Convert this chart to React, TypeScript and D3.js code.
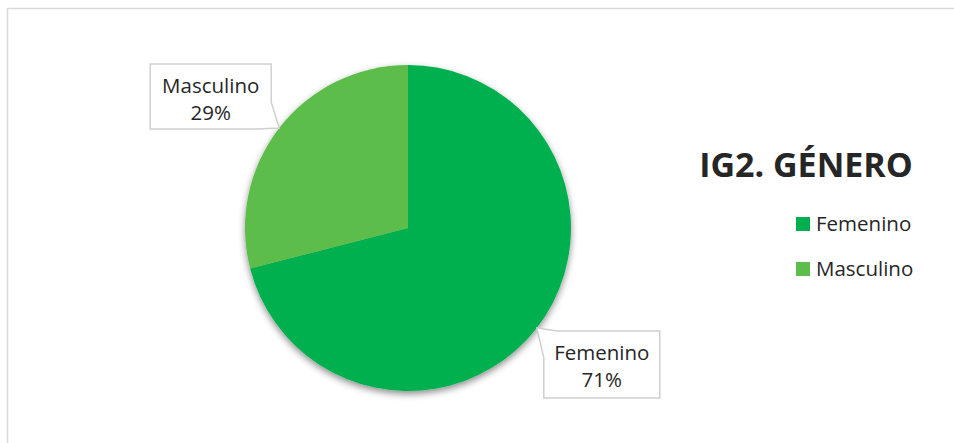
import React, { useEffect, useRef } from "react";
import * as d3 from "d3";

const categories = ["Femenino", "Masculino"];
const values = [71, 29];
const colors = ["#00B050", "#5CBD4B"];
const colorsDark = ["#00A24A", "#52B044"];
const title = "IG2. GÉNERO";

const App = () => {
  const ref = useRef<SVGSVGElement>(null);

  useEffect(() => {
    const svg = d3.select(ref.current);
    svg.selectAll("*").remove();
    const width = 954;
    const height = 443;
    const font = "'Open Sans', sans-serif";

    svg
      .append("rect")
      .attr("width", width)
      .attr("height", height)
      .attr("fill", "#fff");

    // chart frame (runs off the right/bottom edge)
    svg
      .append("rect")
      .attr("x", 7.5)
      .attr("y", 8.5)
      .attr("width", 1000)
      .attr("height", 500)
      .attr("fill", "none")
      .attr("stroke", "#d9d9d9")
      .attr("stroke-width", 1.5);

    const defs = svg.append("defs");
    const f = defs
      .append("filter")
      .attr("id", "shadow")
      .attr("x", "-20%")
      .attr("y", "-20%")
      .attr("width", "140%")
      .attr("height", "140%");
    f.append("feDropShadow")
      .attr("dx", 0)
      .attr("dy", 3)
      .attr("stdDeviation", 3.5)
      .attr("flood-color", "#000")
      .attr("flood-opacity", 0.45);

    const cx = 408;
    const cy = 228;
    const r = 163;

    categories.forEach((c, i) => {
      const g = defs
        .append("linearGradient")
        .attr("id", "grad" + i)
        .attr("gradientUnits", "userSpaceOnUse")
        .attr("x1", 0)
        .attr("y1", cy - r)
        .attr("x2", 0)
        .attr("y2", cy + r);
      g.append("stop").attr("offset", 0).attr("stop-color", colors[i]);
      g.append("stop").attr("offset", 0.55).attr("stop-color", colors[i]);
      g.append("stop").attr("offset", 1).attr("stop-color", colorsDark[i]);
    });

    const pie = d3
      .pie<number>()
      .sort(null)
      .value((d) => d);
    const arcs = pie(values);
    const arc = d3.arc<d3.PieArcDatum<number>>().innerRadius(0).outerRadius(r);

    const pg = svg
      .append("g")
      .attr("transform", `translate(${cx},${cy})`)
      .attr("filter", "url(#shadow)");
    pg.selectAll("path")
      .data(arcs)
      .enter()
      .append("path")
      .attr("d", arc)
      .attr("fill", (d, i) => `url(#grad${i})`);

    // data label callouts
    const total = d3.sum(values);
    const boxW = [116, 121];
    const boxH = [67, 65];
    arcs.forEach((d, i) => {
      const a = (d.startAngle + d.endAngle) / 2;
      const tx = cx + r * Math.sin(a);
      const ty = cy - r * Math.cos(a);
      let p: string;
      let bx: number;
      let by: number;
      const w = boxW[i];
      const h = boxH[i];
      if (Math.sin(a) > 0) {
        // box below-right of tip, tail at top-left
        bx = tx + 7;
        by = ty + 3;
        p = `M${tx},${ty} L${bx + 14},${by} H${bx + w} V${by + h} H${bx} V${by + 27} Z`;
      } else {
        // box above-left of tip, tail at bottom-right
        bx = tx - 8 - w;
        by = ty - 64;
        p = `M${bx},${by} H${bx + w} V${by + 38} L${tx},${ty} L${bx + w - 14},${by + h} H${bx} Z`;
      }
      svg
        .append("path")
        .attr("d", p)
        .attr("fill", "#fff")
        .attr("stroke", "#cfcfcf")
        .attr("stroke-width", 1.5);
      const t = svg
        .append("text")
        .attr("x", bx + w / 2)
        .attr("y", by + 29)
        .attr("text-anchor", "middle")
        .attr("font-family", font)
        .attr("font-size", 20.5)
        .attr("fill", "#262626");
      t.append("tspan").text(categories[i]);
      t.append("tspan")
        .attr("x", bx + w / 2)
        .attr("dy", 27)
        .text(Math.round((values[i] / total) * 100) + "%");
    });

    // title
    svg
      .append("text")
      .attr("x", 806)
      .attr("y", 177)
      .attr("text-anchor", "middle")
      .attr("font-family", font)
      .attr("font-weight", "bold")
      .attr("font-size", 34)
      .attr("fill", "#262626")
      .text(title);

    // legend
    const lg = svg.append("g").attr("transform", "translate(796,217)");
    categories.forEach((c, i) => {
      const row = lg.append("g").attr("transform", `translate(0,${i * 45})`);
      row
        .append("rect")
        .attr("width", 14)
        .attr("height", 14)
        .attr("fill", colors[i]);
      row
        .append("text")
        .attr("x", 20)
        .attr("y", 14)
        .attr("font-family", font)
        .attr("font-size", 20.5)
        .attr("fill", "#262626")
        .text(c);
    });
  }, []);

  return (
    <svg
      ref={ref}
      width={954}
      height={443}
      style={{ position: "absolute", left: 0, top: 0 }}
    ></svg>
  );
};

export default App;
